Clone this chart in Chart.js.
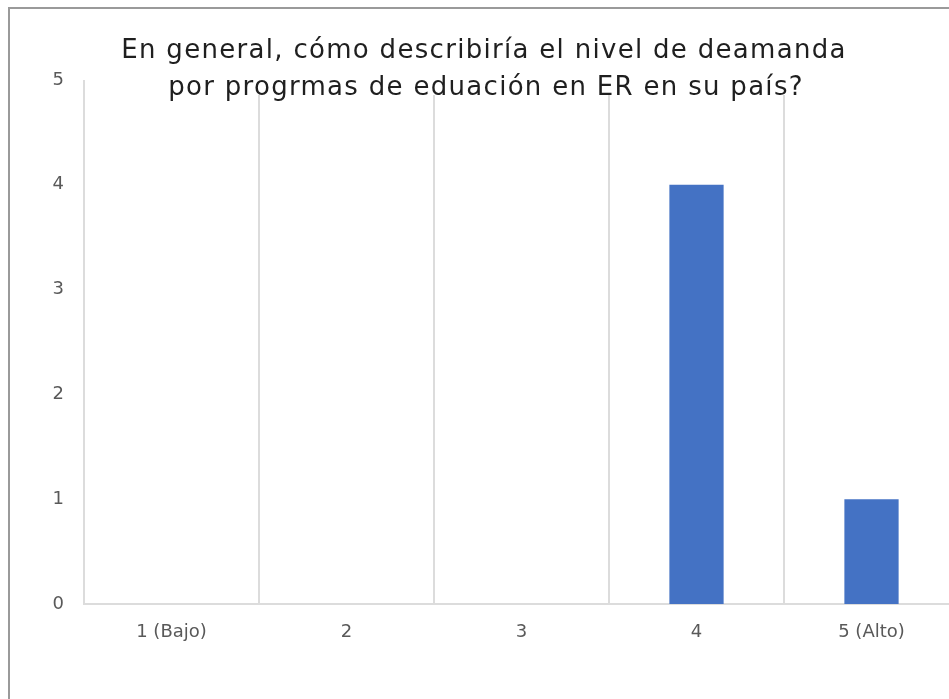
<!DOCTYPE html>
<html>
<head>
<meta charset="utf-8">
<script src="https://cdn.jsdelivr.net/npm/chart.js@4"></script>
<style>
  html, body { margin: 0; padding: 0; background: #fff; overflow: hidden; width: 949px; height: 699px; }
  #wrap { position: absolute; left: 0; top: 0; width: 960px; height: 699px; }
</style>
</head>
<body>
<div id="wrap"><canvas id="c" width="960" height="699"></canvas></div>
<script>
const titleLines = ["En general, cómo describiría el nivel de deamanda", "por progrmas de eduación en ER en su país?"];
const categories = ["1 (Bajo)", "2", "3", "4", "5 (Alto)"];
const values = [0, 0, 0, 4, 1];
const yMin = 0, yMax = 5, yStep = 1;

const FONT = "'DejaVu Sans', sans-serif";

const framePlugin = {
  id: 'frame',
  afterDraw(chart) {
    const ctx = chart.ctx;
    ctx.save();
    ctx.strokeStyle = '#9a9a9a';
    ctx.lineWidth = 2;
    ctx.beginPath();
    ctx.moveTo(9, 699);
    ctx.lineTo(9, 8);
    ctx.lineTo(960, 8);
    ctx.stroke();
    ctx.fillStyle = '#ffffff';
    ctx.fillRect(100, 10, 768, 85);
    ctx.fillStyle = '#1f1f1f';
    ctx.font = "26px " + FONT;
    try { ctx.letterSpacing = '1.3px'; } catch (e) {}
    ctx.textAlign = 'center';
    ctx.textBaseline = 'alphabetic';
    ctx.fillText(titleLines[0], 484, 58);
    ctx.fillText(titleLines[1], 486, 95);
    ctx.restore();
  }
};

new Chart(document.getElementById('c'), {
  type: 'bar',
  data: {
    labels: categories,
    datasets: [{
      data: values,
      backgroundColor: '#4472c4',
      borderWidth: 0,
      barPercentage: 0.31,
      categoryPercentage: 1.0
    }]
  },
  options: {
    responsive: false,
    animation: false,
    devicePixelRatio: 1,
    layout: { padding: { left: 10, top: 80, right: 1, bottom: 0 } },
    plugins: { legend: { display: false }, tooltip: { enabled: false }, title: { display: false } },
    scales: {
      x: {
        offset: true,
        grid: { display: true, offset: true, color: '#dcdcdc', lineWidth: 2, drawTicks: false },
        border: { display: true, color: '#dcdcdc', width: 2 },
        ticks: { color: '#595959', font: { family: FONT, size: 18 }, padding: 18, maxRotation: 0 },
        afterFit(s) { s.height = 699 - 604; }
      },
      y: {
        min: yMin, max: yMax,
        grid: { display: false },
        border: { display: false },
        ticks: { stepSize: yStep, color: '#595959', font: { family: FONT, size: 18 }, padding: 12 },
        afterFit(s) { s.width = 84 - 10; }
      }
    }
  },
  plugins: [framePlugin]
});
</script>
</body>
</html>
